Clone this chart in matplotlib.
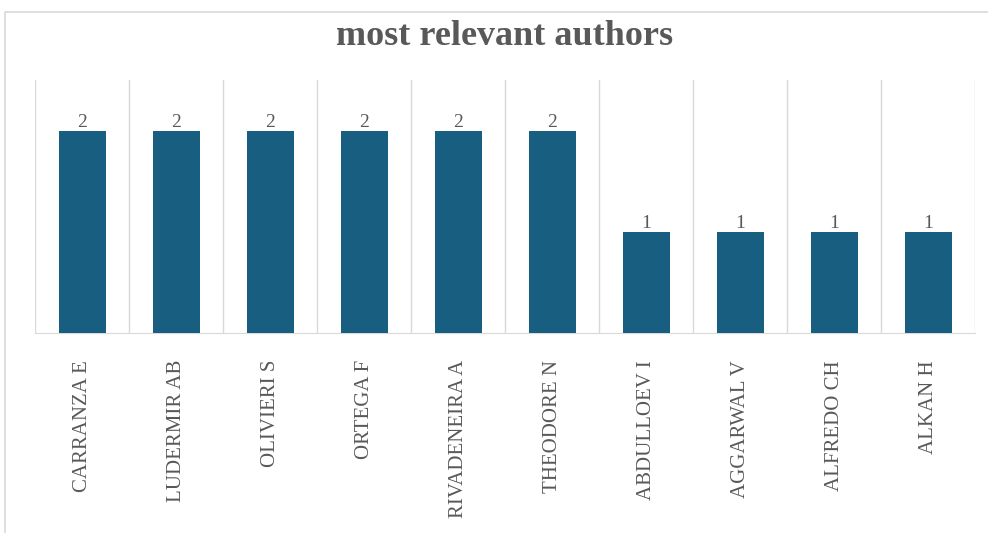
import matplotlib.pyplot as plt
from matplotlib.patches import Rectangle

authors = ["CARRANZA E", "LUDERMIR AB", "OLIVIERI S", "ORTEGA F", "RIVADENEIRA A",
           "THEODORE N", "ABDULLOEV I", "AGGARWAL V", "ALFREDO CH", "ALKAN H"]
docs = [2, 2, 2, 2, 2, 2, 1, 1, 1, 1]

BAR_COLOR = "#175e80"
TEXT_COLOR = "#595959"
GRID_COLOR = "#d9d9d9"

plt.rcParams['font.family'] = ['Liberation Serif', 'DejaVu Serif']

fig = plt.figure(figsize=(9.88, 5.33), dpi=100)
# chart frame
fig.patches.append(Rectangle((5 / 988, -0.1), 1.1, 1 - 12 / 533 + 0.1, transform=fig.transFigure,
                             fill=False, edgecolor=GRID_COLOR, linewidth=1.2))

ax = fig.add_axes([35 / 988, 1 - 333 / 533, 940 / 988, 253 / 533])
x = range(len(authors))
bars = ax.bar(x, docs, width=0.5, color=BAR_COLOR, zorder=3)
ax.set_xlim(-0.5, len(authors) - 0.5)
ax.set_ylim(0, 2.5)

for b, v in zip(bars, docs):
    ax.annotate(str(v), (b.get_x() + b.get_width() / 2, v), xytext=(0, 0),
                textcoords="offset points", ha="center", va="bottom",
                fontsize=14, color=TEXT_COLOR)

# vertical separators between categories
for k in range(len(authors) + 1):
    ax.axvline(k - 0.5, color=GRID_COLOR, linewidth=1, zorder=1)

ax.set_xticks(list(x))
ax.set_xticklabels(authors, rotation=90, fontsize=15, color=TEXT_COLOR)
ax.tick_params(axis="x", length=0, pad=19.5)
ax.set_yticks([])
for s in ["top", "left", "right"]:
    ax.spines[s].set_visible(False)
ax.spines["bottom"].set_color(GRID_COLOR)

fig.text(505 / 988, 1 - 45 / 533, "most relevant authors", ha="center", va="baseline",
         fontsize=26, fontweight="bold", color=TEXT_COLOR)

fig.savefig("out.png", dpi=100)
